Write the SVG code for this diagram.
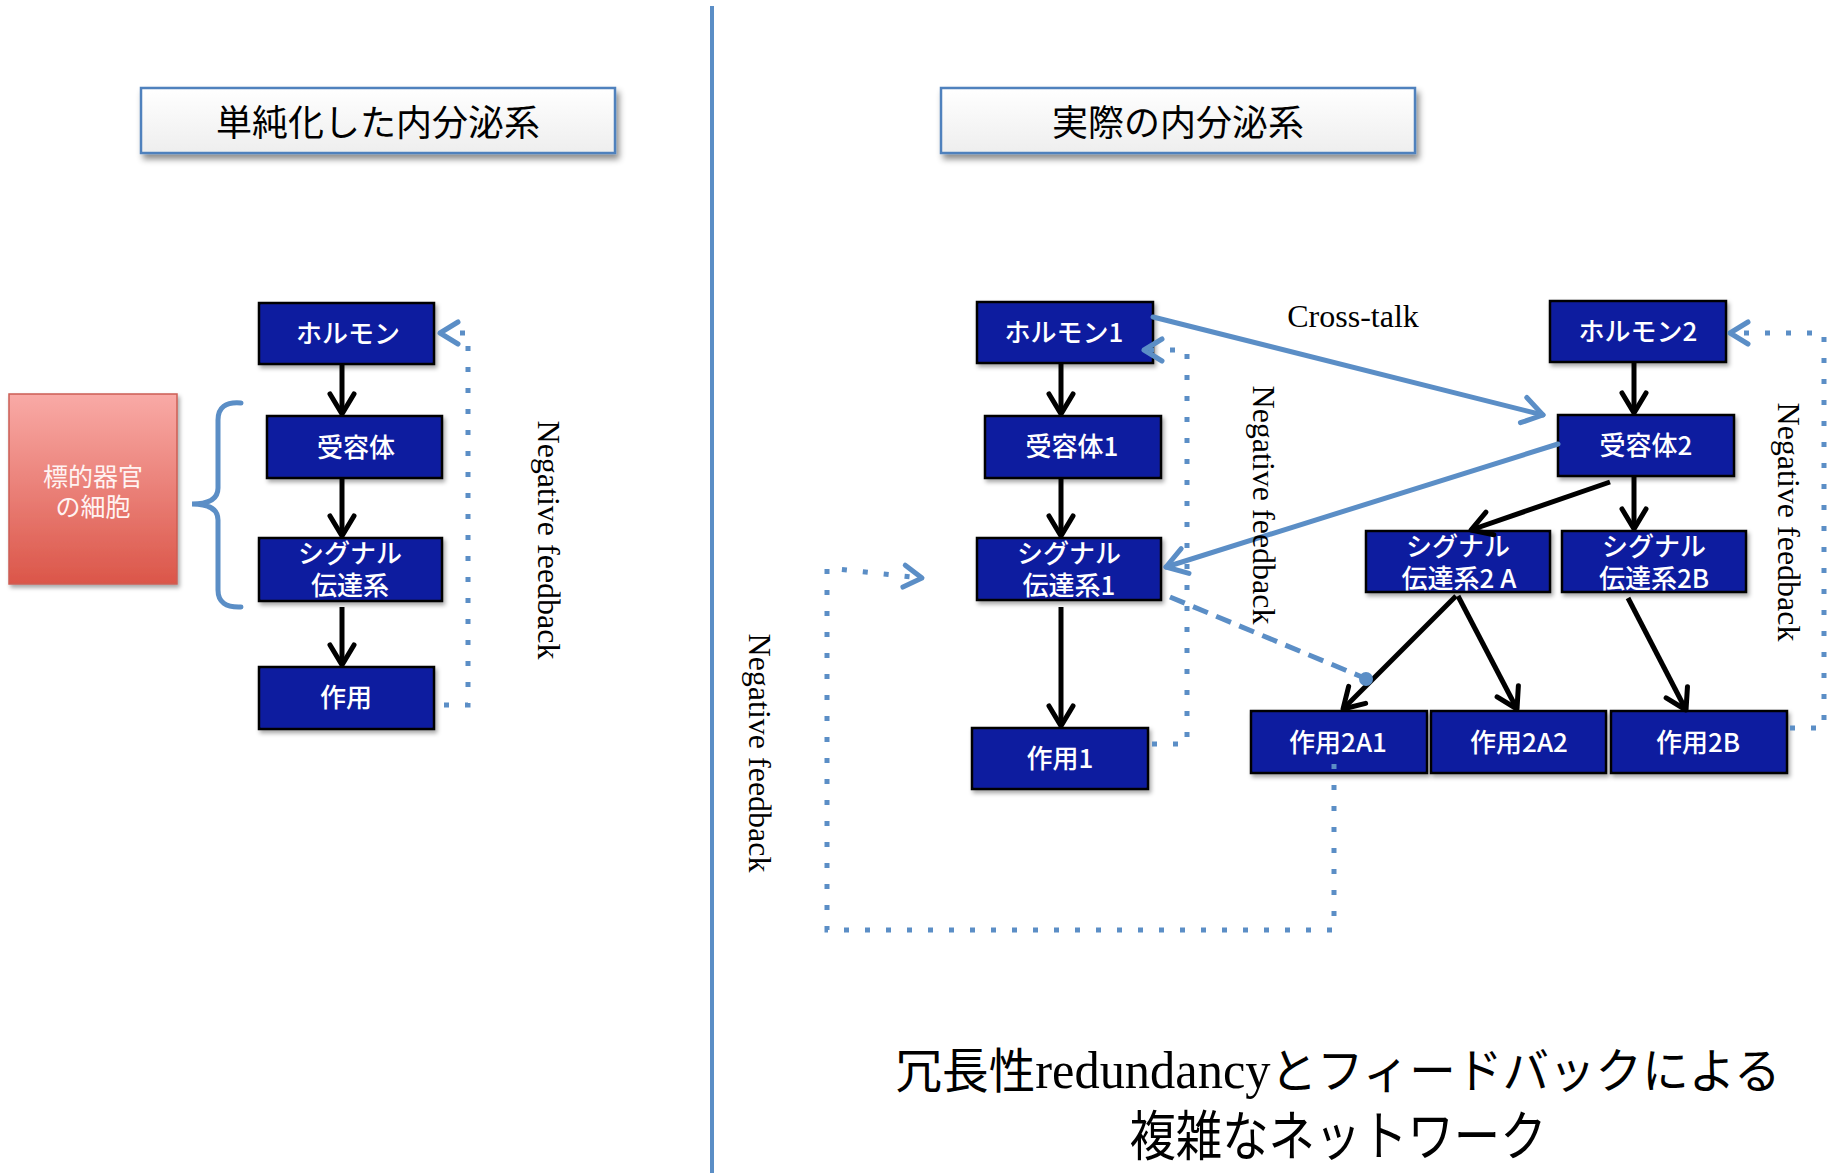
<svg xmlns="http://www.w3.org/2000/svg" width="1829" height="1173" viewBox="0 0 1829 1173">
<defs>
<style>
.box{fill:#0a1a9f;stroke:#000;stroke-width:2.5}
.lbl{fill:#fff;font-family:"Noto Sans CJK JP","Noto Sans CJK SC",sans-serif;font-size:26px;font-weight:500;text-anchor:middle}
.title{fill:#000;font-family:"Noto Sans CJK JP","Noto Sans CJK SC",sans-serif;font-size:36px;text-anchor:middle}
.tbox{fill:url(#gTitle);stroke:#4f81bd;stroke-width:2.5}
.serif{fill:#000;font-family:"Liberation Serif","Times New Roman",serif;font-size:32px;text-anchor:middle}
.blk{fill:none;stroke:#000;stroke-width:5;marker-end:url(#ahK)}
.blu{fill:none;stroke:#5b8ec6;stroke-width:5;stroke-linecap:round;marker-end:url(#ahU)}
.dotA{fill:none;stroke:#5b8ec6;stroke-width:5;stroke-dasharray:5 16;marker-end:url(#ahD)}
.dash{fill:none;stroke:#5b8ec6;stroke-width:5;stroke-dasharray:16 9}
</style>
<linearGradient id="gTitle" x1="0" y1="0" x2="0" y2="1">
<stop offset="0" stop-color="#ffffff"/><stop offset="1" stop-color="#eeeeee"/>
</linearGradient>
<linearGradient id="gRed" x1="0" y1="0" x2="0" y2="1">
<stop offset="0" stop-color="#f9aaa6"/><stop offset="1" stop-color="#db5649"/>
</linearGradient>
<filter id="sh" x="-10%" y="-10%" width="130%" height="140%">
<feDropShadow dx="2" dy="3" stdDeviation="2" flood-color="#000" flood-opacity="0.35"/>
</filter>
<filter id="shT" x="-10%" y="-20%" width="130%" height="160%">
<feDropShadow dx="3" dy="5" stdDeviation="3" flood-color="#000" flood-opacity="0.45"/>
</filter>
<marker id="ahK" markerUnits="userSpaceOnUse" markerWidth="34" markerHeight="34" viewBox="-30 -17 34 34" refX="0" refY="0" orient="auto" overflow="visible">
<path d="M-20,-12 L0,0 L-20,12" fill="none" stroke="#000" stroke-width="5" stroke-linecap="round" stroke-linejoin="round"/>
</marker>
<marker id="ahU" markerUnits="userSpaceOnUse" markerWidth="34" markerHeight="34" viewBox="-30 -17 34 34" refX="0" refY="0" orient="auto" overflow="visible">
<path d="M-20,-13 L0,0 L-20,13" fill="none" stroke="#5b8ec6" stroke-width="5" stroke-linecap="round" stroke-linejoin="round"/>
</marker>
<marker id="ahD" markerUnits="userSpaceOnUse" markerWidth="34" markerHeight="34" viewBox="-30 -17 34 34" refX="0" refY="0" orient="auto" overflow="visible">
<path d="M-18,-11 L0,0 L-18,11" fill="none" stroke="#5b8ec6" stroke-width="5" stroke-linecap="round" stroke-linejoin="round"/>
</marker>
</defs>
<rect x="0" y="0" width="1829" height="1173" fill="#ffffff"/>

<!-- divider -->
<line x1="712" y1="6" x2="712" y2="1173" stroke="#5b8ec6" stroke-width="4"/>

<!-- titles -->
<g id="title-left">
<rect class="tbox" x="141" y="88" width="474" height="65" filter="url(#shT)"/>
<text class="title" x="378" y="136">単純化した内分泌系</text>
</g>
<g id="title-right">
<rect class="tbox" x="941" y="88" width="474" height="65" filter="url(#shT)"/>
<text class="title" x="1178" y="136">実際の内分泌系</text>
</g>

<!-- left diagram nodes -->
<g id="target-cell">
<rect x="9" y="394" width="168" height="190" fill="url(#gRed)" stroke="#cc5e55" stroke-width="1.5" filter="url(#sh)"/>
<text fill="#fff3f2" font-family="'Noto Sans CJK JP','Noto Sans CJK SC',sans-serif" font-size="25" text-anchor="middle"><tspan x="93" y="486">標的器官</tspan><tspan x="93" y="516">の細胞</tspan></text>
</g>
<g id="brace">
<path d="M241,403 Q218,401 218,420 L218,488 Q218,504 192,504 Q218,504 218,520 L218,590 Q218,608 241,607" fill="none" stroke="#5b8ec6" stroke-width="5" stroke-linecap="round"/>
</g>
<g id="L-hormone"><rect class="box" x="259" y="303" width="175" height="61" filter="url(#sh)"/><text class="lbl" x="348" y="343">ホルモン</text></g>
<g id="L-receptor"><rect class="box" x="267" y="416" width="175" height="62" filter="url(#sh)"/><text class="lbl" x="356" y="457">受容体</text></g>
<g id="L-signal"><rect class="box" x="259" y="538" width="183" height="63" filter="url(#sh)"/><text class="lbl"><tspan x="350" y="563">シグナル</tspan><tspan x="350" y="595">伝達系</tspan></text></g>
<g id="L-effect"><rect class="box" x="259" y="667" width="175" height="62" filter="url(#sh)"/><text class="lbl" x="346" y="707">作用</text></g>

<!-- right diagram nodes -->
<g id="R-hormone1"><rect class="box" x="977" y="302" width="176" height="61" filter="url(#sh)"/><text class="lbl" x="1064" y="342">ホルモン1</text></g>
<g id="R-receptor1"><rect class="box" x="985" y="416" width="176" height="62" filter="url(#sh)"/><text class="lbl" x="1072" y="456">受容体1</text></g>
<g id="R-signal1"><rect class="box" x="977" y="538" width="184" height="62" filter="url(#sh)"/><text class="lbl"><tspan x="1069" y="563">シグナル</tspan><tspan x="1069" y="595">伝達系1</tspan></text></g>
<g id="R-effect1"><rect class="box" x="972" y="728" width="176" height="61" filter="url(#sh)"/><text class="lbl" x="1060" y="768">作用1</text></g>
<g id="R-hormone2"><rect class="box" x="1550" y="301" width="176" height="61" filter="url(#sh)"/><text class="lbl" x="1638" y="341">ホルモン2</text></g>
<g id="R-receptor2"><rect class="box" x="1558" y="415" width="176" height="61" filter="url(#sh)"/><text class="lbl" x="1646" y="455">受容体2</text></g>
<g id="R-signal2A"><rect class="box" x="1366" y="531" width="184" height="61" filter="url(#sh)"/><text class="lbl"><tspan x="1458" y="556">シグナル</tspan><tspan x="1459" y="588">伝達系2 A</tspan></text></g>
<g id="R-signal2B"><rect class="box" x="1562" y="531" width="184" height="61" filter="url(#sh)"/><text class="lbl"><tspan x="1654" y="556">シグナル</tspan><tspan x="1654" y="588">伝達系2B</tspan></text></g>
<g id="R-effect2A1"><rect class="box" x="1251" y="711" width="176" height="62" filter="url(#sh)"/><text class="lbl" x="1338" y="752">作用2A1</text></g>
<g id="R-effect2A2"><rect class="box" x="1431" y="711" width="175" height="62" filter="url(#sh)"/><text class="lbl" x="1519" y="752">作用2A2</text></g>
<g id="R-effect2B"><rect class="box" x="1611" y="711" width="176" height="62" filter="url(#sh)"/><text class="lbl" x="1698" y="752">作用2B</text></g>

<!-- connectors -->
<g id="connectors">
<line class="blk" x1="342" y1="364" x2="342" y2="414"/>
<line class="blk" x1="342" y1="478" x2="342" y2="536"/>
<line class="blk" x1="342" y1="607" x2="342" y2="665"/>
<path class="dotA" d="M444,705 H468 V333 H440"/>
<line class="blk" x1="1061" y1="363" x2="1061" y2="414"/>
<line class="blk" x1="1061" y1="478" x2="1061" y2="536"/>
<line class="blk" x1="1061" y1="607" x2="1061" y2="726"/>
<line class="blk" x1="1634" y1="362" x2="1634" y2="413"/>
<line class="blk" x1="1634" y1="476" x2="1634" y2="529"/>
<line class="blk" x1="1610" y1="482" x2="1471" y2="530"/>
<line class="blk" x1="1456" y1="596" x2="1343" y2="709"/>
<line class="blk" x1="1458" y1="596" x2="1517" y2="709"/>
<line class="blk" x1="1628" y1="598" x2="1686" y2="710"/>
<line class="blu" x1="1153" y1="317" x2="1543" y2="415"/>
<line class="blu" x1="1558" y1="444" x2="1166" y2="567"/>
<line class="dash" x1="1170" y1="597" x2="1362" y2="677"/>
<circle cx="1366" cy="679" r="7" fill="#5b8ec6"/>
<path class="dotA" d="M1152,744 H1187 V350 H1144"/>
<path class="dotA" d="M1790,728 H1824 V333 H1730"/>
<path class="dotA" d="M1334,764 V930 H827 V568 L922,578"/>
</g>

<!-- free labels -->
<text class="serif" x="1353" y="327">Cross-talk</text>
<text class="serif" transform="translate(538,540) rotate(90)" x="0" y="0">Negative feedback</text>
<text class="serif" transform="translate(1253,505) rotate(90)" x="0" y="0">Negative feedback</text>
<text class="serif" transform="translate(1778,522) rotate(90)" x="0" y="0">Negative feedback</text>
<text class="serif" transform="translate(749,753) rotate(90)" x="0" y="0">Negative feedback</text>

<!-- bottom title -->
<text x="1338" y="1088" font-family="'Noto Sans CJK JP','Noto Sans CJK SC',sans-serif" font-size="48" text-anchor="middle" textLength="885" lengthAdjust="spacingAndGlyphs">冗長性<tspan font-family="'Liberation Serif',serif" font-size="52">redundancy</tspan>とフィードバックによる</text>
<text x="1338" y="1156" font-family="'Noto Sans CJK JP','Noto Sans CJK SC',sans-serif" font-size="54" text-anchor="middle" textLength="417" lengthAdjust="spacingAndGlyphs">複雑なネットワーク</text>
</svg>
